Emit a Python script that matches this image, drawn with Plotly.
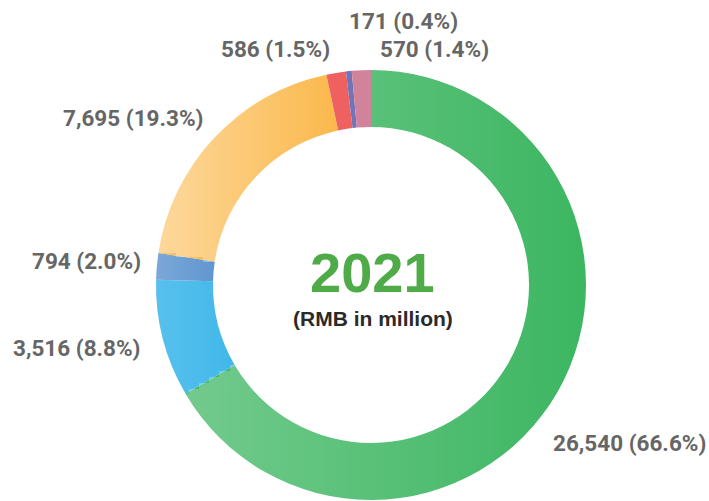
import base64
import plotly.graph_objects as go

# Data
categories = ["Segment A", "Segment B", "Segment C", "Segment D", "Segment E", "Segment F", "Segment G"]
values = [26540, 3516, 794, 7695, 586, 171, 570]
pct_labels = ["66.6%", "8.8%", "2.0%", "19.3%", "1.5%", "0.4%", "1.4%"]
center_title = "2021"
center_subtitle = "(RMB in million)"

colors = ["#3CB661", "#41B8EA", "#6096D0", "#FBB94D", "#EF6060", "#7373B8", "#D2839C"]

W, H = 709, 501
CX, CY, R = 371, 285, 215

fig = go.Figure()
fig.add_trace(go.Pie(
    labels=categories,
    values=values,
    hole=0.735,
    sort=False,
    direction="clockwise",
    rotation=0,
    marker=dict(colors=colors, line=dict(width=0)),
    textinfo="none",
    hoverinfo="label+value+percent",
    showlegend=False,
    domain=dict(x=[(CX - R) / W, (CX + R) / W], y=[1 - (CY + R) / H, 1 - (CY - R) / H]),
))

# ---- horizontal light-to-dark shading overlay (style only) ----
X0, X1 = 156, 586
BW = X1 - X0


def ramp(a0, xa, xb):
    return lambda x: max(0.0, a0 * (xb - x) / (xb - xa))


green_a = ramp(0.28, 186, 586)
orange_a = ramp(0.45, 156, 335)
steel_a = ramp(0.17, 156, 215)
blue_a = ramp(0.12, 156, 235)
zero_a = lambda x: 0.0


def grad_svg(segments):
    stops = []
    xs = X0
    for xe, f in segments:
        stops.append(((xs - X0) / BW, f(xs)))
        stops.append(((xe - X0) / BW, f(xe)))
        xs = xe
    st = "".join(
        f'<stop offset="{o:.4f}" stop-color="#ffffff" stop-opacity="{a:.3f}"/>' for o, a in stops
    )
    svg = (
        '<svg xmlns="http://www.w3.org/2000/svg" width="100" height="100" '
        'viewBox="0 0 100 100" preserveAspectRatio="none">'
        f'<defs><linearGradient id="g" x1="0" y1="0" x2="1" y2="0">{st}</linearGradient></defs>'
        '<rect x="0" y="0" width="100" height="100" fill="url(#g)"/></svg>'
    )
    return "data:image/svg+xml;base64," + base64.b64encode(svg.encode()).decode()


bands = [
    (70, 253, [(335, orange_a), (371, zero_a), (X1, green_a)]),
    (253, 257, [(176, steel_a), (335, orange_a), (371, zero_a), (X1, green_a)]),
    (257, 262, [(203, steel_a), (335, orange_a), (371, zero_a), (X1, green_a)]),
    (262, 281, [(215, steel_a), (236, zero_a), (X1, green_a)]),
    (281, 365, [(235, blue_a), (X1, green_a)]),
]
for ya, yb in [(365, 371), (371, 377), (377, 383), (383, 389), (389, 394)]:
    cut = 234.7 - ((ya + yb) / 2 - 365) * 1.705
    bands.append((ya, yb, [(cut, blue_a), (X1, green_a)]))
bands.append((394, 502, [(X1, green_a)]))

for ya, yb, segs in bands:
    fig.add_layout_image(
        source=grad_svg(segs), xref="paper", yref="paper",
        x=X0 / W, y=1 - ya / H, sizex=BW / W, sizey=(yb - ya) / H,
        xanchor="left", yanchor="top", sizing="stretch", layer="above",
    )

# label placement: (x px, y px, anchor)
label_pos = [
    (551, 443, "left"),
    (143, 348, "right"),
    (143, 261, "right"),
    (205, 118, "right"),
    (332, 49, "right"),
    (347, 21, "left"),
    (378, 49, "left"),
]

for v, p, (lx, ly, anc) in zip(values, pct_labels, label_pos):
    fig.add_annotation(
        x=lx / W, y=1 - ly / H, xref="paper", yref="paper",
        text=f"{v:,} ({p})", showarrow=False,
        xanchor=anc, yanchor="middle",
        font=dict(family="Roboto", size=22.5, color="#666666", weight="bold"),
    )

fig.add_annotation(
    x=372 / W, y=1 - 272 / H, xref="paper", yref="paper",
    text=center_title, showarrow=False, xanchor="center", yanchor="middle",
    font=dict(family="Liberation Sans", size=56, color="#4FAA48", weight="bold"),
)
fig.add_annotation(
    x=373 / W, y=1 - 318 / H, xref="paper", yref="paper",
    text=center_subtitle, showarrow=False, xanchor="center", yanchor="middle",
    font=dict(family="Liberation Sans", size=21, color="#2A2A2A", weight="bold"),
)

fig.update_layout(
    width=W, height=H,
    margin=dict(l=0, r=0, t=0, b=0),
    paper_bgcolor="white",
    plot_bgcolor="white",
)

fig.write_html("out.html", config={"displayModeBar": False},
               post_script="document.body.style.margin='0';")
